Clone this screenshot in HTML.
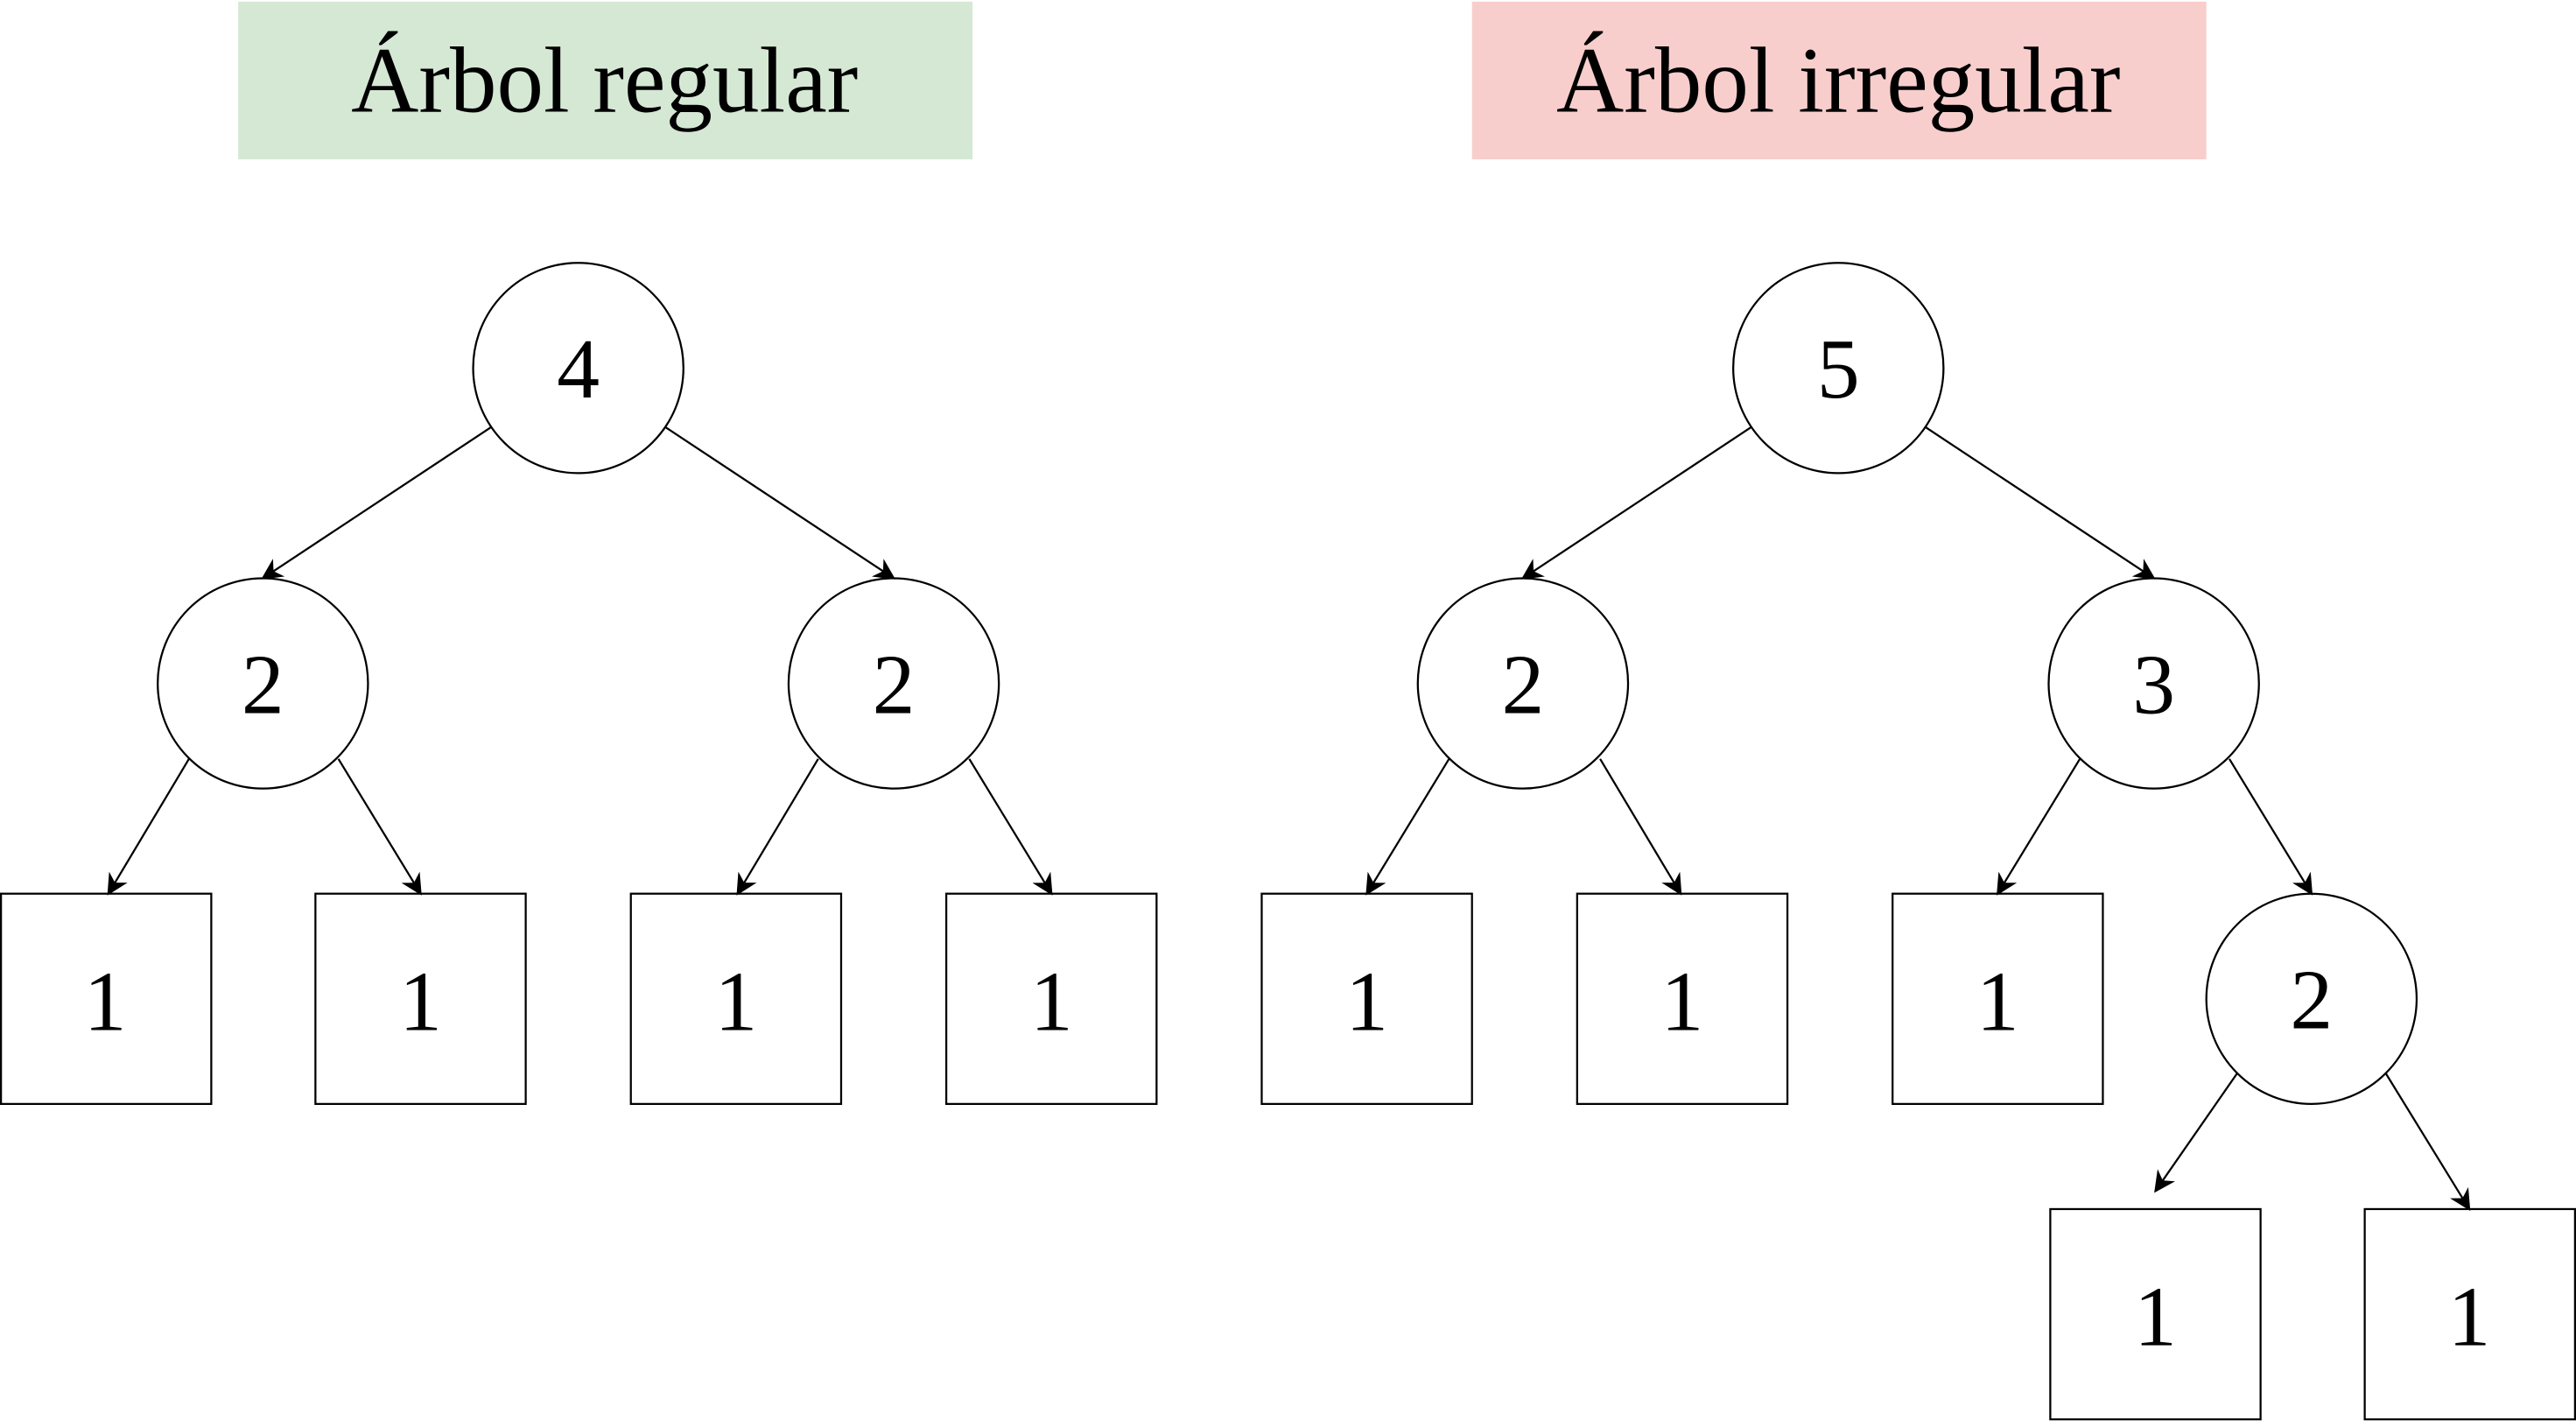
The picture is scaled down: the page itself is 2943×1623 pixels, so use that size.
<!DOCTYPE html>
<html><head><meta charset="utf-8"><style>html,body{margin:0;padding:0;background:#fff;}svg{display:block}</style></head>
<body>
<svg width="2943" height="1623" viewBox="0 0 1568 865" preserveAspectRatio="none" xmlns="http://www.w3.org/2000/svg">
<defs><marker id="a" viewBox="0 0 10 10" refX="9" refY="5" markerWidth="13" markerHeight="13" markerUnits="userSpaceOnUse" orient="auto"><path d="M0,0 L10,5 L0,10 L3,5 Z" fill="#000"/></marker></defs>
<rect x="145" y="1" width="447" height="96" fill="#d5e8d4"/>
<rect x="896" y="1" width="447" height="96" fill="#f8cecc"/>
<g font-family="'Liberation Serif',serif" text-anchor="middle" fill="#000">
<text x="368" y="68" font-size="57">Árbol regular</text>
<text x="1119" y="68" font-size="57">Árbol irregular</text>
</g>
<g stroke="#000" stroke-width="1.2" fill="#fff">
<circle cx="352" cy="224" r="64"/><circle cx="160" cy="416" r="64"/><circle cx="544" cy="416" r="64"/>
<rect x="0.6" y="544" width="128" height="128"/><rect x="192" y="544" width="128" height="128"/><rect x="384" y="544" width="128" height="128"/><rect x="576" y="544" width="128" height="128"/>
<circle cx="1119" cy="224" r="64"/><circle cx="927" cy="416" r="64"/><circle cx="1311" cy="416" r="64"/><circle cx="1407" cy="608" r="64"/>
<rect x="768" y="544" width="128" height="128"/><rect x="960" y="544" width="128" height="128"/><rect x="1152" y="544" width="128" height="128"/>
<rect x="1248" y="736" width="128" height="128"/><rect x="1439.4" y="736" width="128" height="128"/>
</g>
<g stroke="#000" stroke-width="1.2" marker-end="url(#a)">
<line x1="299" y1="260" x2="160" y2="352"/><line x1="405" y1="260" x2="544" y2="352"/>
<line x1="115" y1="462" x2="66" y2="544"/><line x1="206" y1="462" x2="256" y2="544"/>
<line x1="498" y1="462" x2="449" y2="544"/><line x1="590" y1="462" x2="640" y2="544"/>
<line x1="1066" y1="260" x2="927" y2="352"/><line x1="1172" y1="260" x2="1311" y2="352"/>
<line x1="882" y1="462" x2="832" y2="544"/><line x1="974" y1="462" x2="1023" y2="544"/>
<line x1="1266" y1="462" x2="1216" y2="544"/><line x1="1357" y1="462" x2="1407" y2="544"/>
<line x1="1362" y1="653" x2="1312" y2="725"/><line x1="1452" y1="653" x2="1503" y2="736"/>
</g>
<g font-family="'Liberation Serif',serif" font-size="52" text-anchor="middle" fill="#000">
<text x="352" y="242">4</text><text x="160" y="434">2</text><text x="544" y="434">2</text>
<text x="64" y="627">1</text><text x="256" y="627">1</text><text x="448" y="627">1</text><text x="640" y="627">1</text>
<text x="1119" y="242">5</text><text x="927" y="434">2</text><text x="1311" y="434">3</text><text x="1407" y="626">2</text>
<text x="832" y="627">1</text><text x="1024" y="627">1</text><text x="1216" y="627">1</text>
<text x="1312" y="819">1</text><text x="1503" y="819">1</text>
</g>
</svg>
</body></html>
